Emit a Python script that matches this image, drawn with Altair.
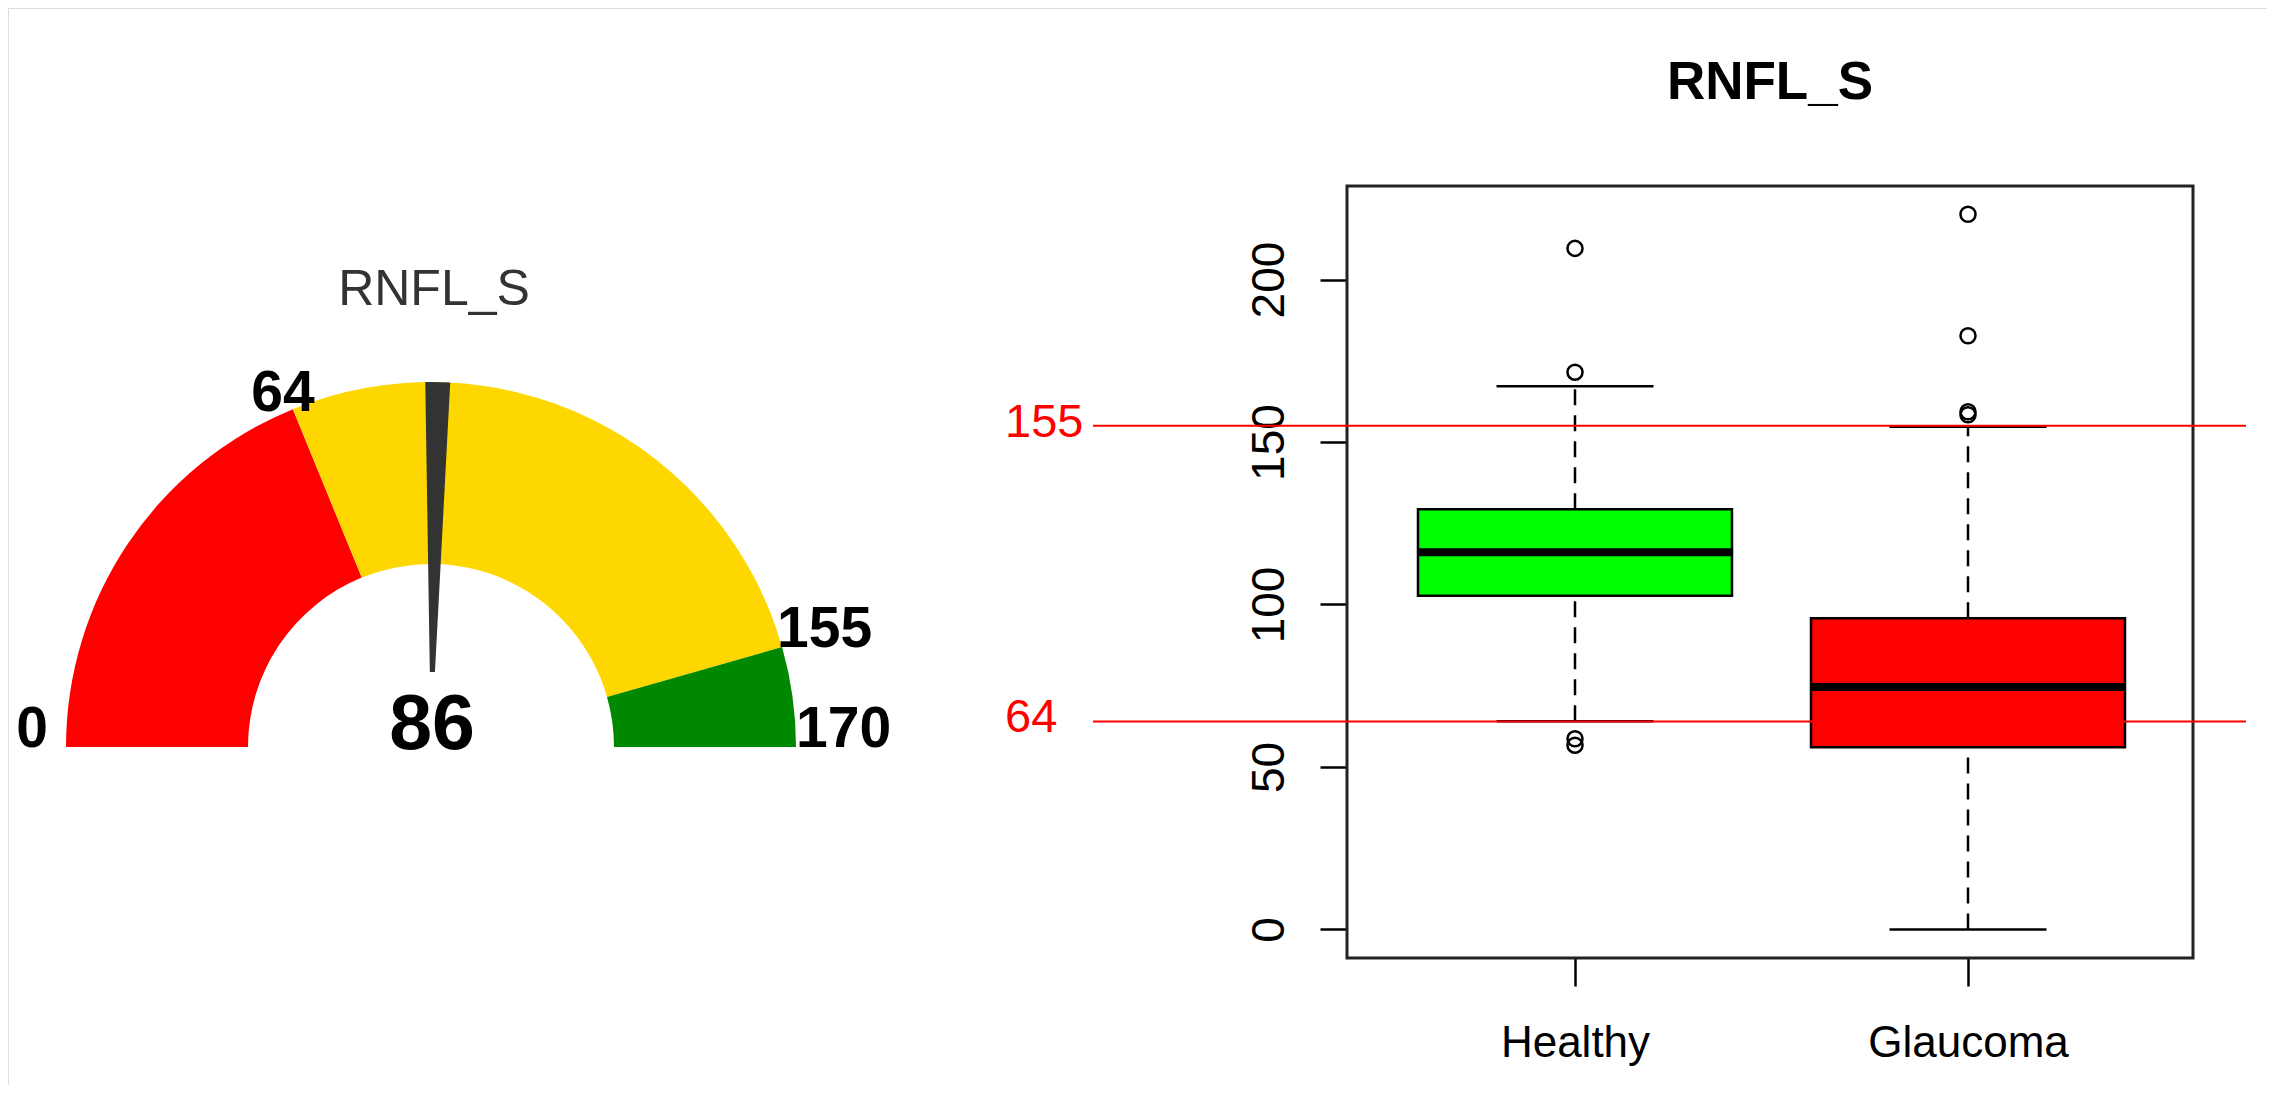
import math
import altair as alt
import pandas as pd

# ---------------- data ----------------
GAUGE_TITLE = "RNFL_S"
GAUGE_MIN, GAUGE_MAX = 0, 170
BAND_START = [0, 64, 155]
BAND_END = [64, 155, 170]
BAND_COLOR = ["#FF0000", "#FFD700", "#008800"]
GAUGE_LABELS = [0, 64, 155, 170]
NEEDLE_VALUE = 86

BOX_TITLE = "RNFL_S"
GROUPS = ["Healthy", "Glaucoma"]
GROUP_COLOR = ["#00FF00", "#FF0000"]
LOWER_WHISKER = [64.1, 0.0]
Q1 = [102.7, 56.1]
MEDIAN = [116.1, 74.6]
Q3 = [129.3, 95.8]
UPPER_WHISKER = [167.2, 154.7]
OUTLIER_GROUP = ["Healthy", "Healthy", "Healthy", "Healthy",
                 "Glaucoma", "Glaucoma", "Glaucoma", "Glaucoma"]
OUTLIER_VALUE = [209.6, 171.5, 58.7, 56.7, 220.1, 182.7, 159.3, 158.4]
Y_TICKS = [0, 50, 100, 150, 200]
Y_RANGE = [-8.8, 228.8]
CUTOFFS = [155, 64]

# ---------------- layout / style ----------------
FONT = "Liberation Sans"
M = 8
W, H = 2275 - 2 * M, 1093 - 2 * M

# gauge geometry (px)
G_CX, G_CY = 431 - M, 747 - M
G_R, G_R_IN, G_NEEDLE_IN = 365, 183, 75
NEEDLE_HALF = 1.85
LABEL_STYLE = {0: ("right", -18, 0), 64: ("center", -10, 2),
               155: ("left", -5, 0), 170: ("left", 0, 0)}

# box plot frame (px)
F_X0, F_X1, F_Y0, F_Y1 = 1347 - M, 2193 - M, 186 - M, 958 - M
BOX_W, CAP_W = 314, 157

gx = alt.Scale(domain=[-G_CX / G_R, (W - G_CX) / G_R], nice=False, zero=False)
gy = alt.Scale(domain=[-(H - G_CY) / G_R, G_CY / G_R], nice=False, zero=False)
gtheta = alt.Scale(domain=[GAUGE_MIN, GAUGE_MAX], range=[-math.pi / 2, math.pi / 2],
                   nice=False, zero=False)

k = (F_Y1 - F_Y0) / (Y_RANGE[1] - Y_RANGE[0])
by = alt.Scale(domain=[Y_RANGE[0] - (H - F_Y1) / k, Y_RANGE[1] + F_Y0 / k],
               nice=False, zero=False)
bx = alt.Scale(type="point", domain=GROUPS, range=[1575 - M, 1968 - M], padding=0)

Y_AXIS = alt.Axis(values=Y_TICKS, orient="left", offset=-F_X0, domain=False, grid=False,
                  tickSize=27, tickWidth=2.5, tickColor="#000000", labelAngle=270,
                  labelAlign="center", labelBaseline="alphabetic", labelPadding=37,
                  labelFontSize=46, labelFont=FONT, labelColor="#000000", title=None,
                  labelLimit=1000)
X_AXIS = alt.Axis(orient="bottom", offset=-(H - F_Y1), domain=False, grid=False,
                  tickSize=28, tickWidth=2.5, tickColor="#000000", labelAngle=0,
                  labelPadding=70, labelBaseline="alphabetic", labelFontSize=44,
                  labelFont=FONT, labelColor="#000000", title=None, labelLimit=1000)

# ---------------- gauge ----------------
bands = pd.DataFrame({"start": BAND_START, "end": BAND_END, "color": BAND_COLOR,
                      "cx": [0.0] * 3, "cy": [0.0] * 3})
arcs = alt.Chart(bands).mark_arc(radius=G_R, innerRadius=G_R_IN).encode(
    x=alt.X("cx:Q", scale=gx, axis=None),
    y=alt.Y("cy:Q", scale=gy, axis=None),
    theta=alt.Theta("start:Q", scale=gtheta, stack=None),
    theta2="end:Q",
    color=alt.Color("color:N", scale=None, legend=None),
)

needle_df = pd.DataFrame({"v": [NEEDLE_VALUE], "cx": [0.0], "cy": [0.0]})
needle = alt.Chart(needle_df).transform_calculate(
    lo=f"datum.v - {NEEDLE_HALF}", hi=f"datum.v + {NEEDLE_HALF}"
).mark_arc(radius=G_R, innerRadius=G_NEEDLE_IN, color="#333333").encode(
    x=alt.X("cx:Q", scale=gx, axis=None),
    y=alt.Y("cy:Q", scale=gy, axis=None),
    theta=alt.Theta("lo:Q", scale=gtheta, stack=None),
    theta2="hi:Q",
)

label_layers = []
lab_df = pd.DataFrame({"v": GAUGE_LABELS})
for v in GAUGE_LABELS:
    al, dx, dy = LABEL_STYLE[v]
    label_layers.append(
        alt.Chart(lab_df).transform_filter(f"datum.v == {v}").transform_calculate(
            px=f"-cos((datum.v - {GAUGE_MIN}) / ({GAUGE_MAX} - {GAUGE_MIN}) * PI)",
            py=f"sin((datum.v - {GAUGE_MIN}) / ({GAUGE_MAX} - {GAUGE_MIN}) * PI)",
        ).mark_text(align=al, baseline="alphabetic", dx=dx, dy=dy, fontSize=57,
                    fontWeight="bold", font=FONT, color="#000000").encode(
            x=alt.X("px:Q", scale=gx, axis=None),
            y=alt.Y("py:Q", scale=gy, axis=None),
            text=alt.Text("v:Q", format="d"),
        )
    )

value_text = alt.Chart(needle_df).mark_text(
    align="center", baseline="alphabetic", dx=1, dy=2, fontSize=77,
    fontWeight="bold", font=FONT, color="#000000"
).encode(
    x=alt.X("cx:Q", scale=gx, axis=None),
    y=alt.Y("cy:Q", scale=gy, axis=None),
    text=alt.Text("v:Q", format="d"),
)

gauge_title = alt.Chart(pd.DataFrame({"t": [GAUGE_TITLE]})).mark_text(
    align="center", baseline="alphabetic", fontSize=50, font=FONT, color="#333333"
).encode(x=alt.value(434 - M), y=alt.value(305 - M), text="t:N")

gauge_layer = alt.layer(arcs, needle, *label_layers, value_text, gauge_title)

# ---------------- box plot ----------------
stats = pd.DataFrame({"group": GROUPS, "color": GROUP_COLOR, "lw": LOWER_WHISKER,
                      "q1": Q1, "med": MEDIAN, "q3": Q3, "uw": UPPER_WHISKER})
outl = pd.DataFrame({"group": OUTLIER_GROUP, "value": OUTLIER_VALUE})

X = alt.X("group:N", scale=bx, axis=X_AXIS, sort=GROUPS)

frame = alt.Chart(pd.DataFrame({"a": [0]})).mark_rect(
    fillOpacity=0, stroke="#222222", strokeWidth=3
).encode(x=alt.value(F_X0), x2=alt.value(F_X1), y=alt.value(F_Y0), y2=alt.value(F_Y1))

base = alt.Chart(stats)
whisk_hi = base.mark_rule(strokeDash=[16, 10], strokeWidth=2.5, color="#000000").encode(
    x=X, y=alt.Y("q3:Q", scale=by, axis=Y_AXIS), y2="uw:Q")
whisk_lo = base.mark_rule(strokeDash=[16, 10], strokeWidth=2.5, color="#000000").encode(
    x=X, y=alt.Y("lw:Q", scale=by, axis=Y_AXIS), y2="q1:Q")
boxes = base.mark_bar(size=BOX_W, stroke="#000000", strokeWidth=2.5).encode(
    x=X, y=alt.Y("q1:Q", scale=by, axis=Y_AXIS), y2="q3:Q",
    fill=alt.Fill("color:N", scale=None, legend=None))
medians = base.mark_tick(size=BOX_W, thickness=8, color="#000000", opacity=1).encode(
    x=X, y=alt.Y("med:Q", scale=by, axis=Y_AXIS))
caps = base.transform_fold(["lw", "uw"], as_=["k", "cap"]).mark_tick(
    size=CAP_W, thickness=2.5, color="#000000", opacity=1).encode(
    x=X, y=alt.Y("cap:Q", scale=by, axis=Y_AXIS))
points = alt.Chart(outl).mark_point(shape="circle", filled=False, size=227,
                                    strokeWidth=2.5, color="#000000", opacity=1).encode(
    x=X, y=alt.Y("value:Q", scale=by, axis=Y_AXIS))

cut_df = pd.DataFrame({"v": CUTOFFS})
cut_lines = alt.Chart(cut_df).mark_rule(color="#FF0000", strokeWidth=2).encode(
    x=alt.value(1093 - M), x2=alt.value(2246 - M),
    y=alt.Y("v:Q", scale=by, axis=Y_AXIS))
cut_labels = alt.Chart(cut_df).mark_text(
    align="left", baseline="middle", dy=-3, fontSize=47, font=FONT, color="#FF0000"
).encode(x=alt.value(1005 - M), y=alt.Y("v:Q", scale=by, axis=Y_AXIS),
         text=alt.Text("v:Q", format="d"))

box_title = alt.Chart(pd.DataFrame({"t": [BOX_TITLE]})).mark_text(
    align="center", baseline="alphabetic", fontSize=53, fontWeight="bold",
    font=FONT, color="#000000"
).encode(x=alt.value(1770 - M), y=alt.value(99 - M), text="t:N")

box_layer = alt.layer(frame, whisk_hi, whisk_lo, boxes, medians, caps, points,
                      cut_lines, cut_labels, box_title)

chart = alt.layer(box_layer, gauge_layer).resolve_scale(
    x="independent", y="independent"
).properties(
    width=W, height=H, padding=0,
    autosize=alt.AutoSizeParams(type="none"),
).configure_view(stroke="transparent").configure(background="#FFFFFF")

chart.save("out.html", embed_options={"renderer": "svg", "actions": False})
